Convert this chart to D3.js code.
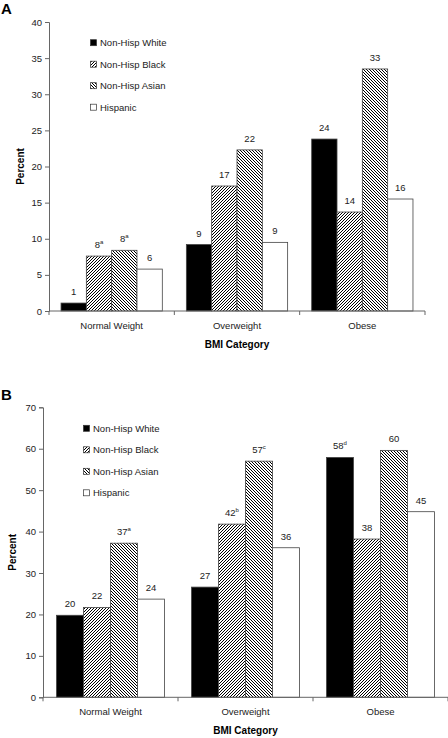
<!DOCTYPE html>
<html>
<head>
<meta charset="utf-8">
<script src="https://cdn.jsdelivr.net/npm/d3@7"></script>
<style>
html,body{margin:0;padding:0;background:#fff;}
svg{display:block;font-family:"Liberation Sans",Arial,sans-serif;}
</style>
</head>
<body>
<svg id="chart" width="448" height="738"></svg>
<script>
const categories = ["Normal Weight", "Overweight", "Obese"];
const seriesNames = ["Non-Hisp White", "Non-Hisp Black", "Non-Hisp Asian", "Hispanic"];

// Panel A values (percent), per series across categories
const aWhite = [1.1, 9.2, 23.8];
const aBlack = [7.6, 17.3, 13.7];
const aAsian = [8.4, 22.3, 33.5];
const aHispanic = [5.8, 9.5, 15.5];
const aLabels = [["1", "9", "24"], ["8|a", "17", "14"], ["8|a", "22", "33"], ["6", "9", "16"]];
const aTicks = [0, 5, 10, 15, 20, 25, 30, 35, 40];

// Panel B values (percent)
const bWhite = [19.8, 26.6, 57.9];
const bBlack = [21.7, 41.8, 38.2];
const bAsian = [37.2, 57.0, 59.6];
const bHispanic = [23.7, 36.1, 44.8];
const bLabels = [["20", "27", "58|d"], ["22", "42|b", "38"], ["37|a", "57|c", "60"], ["24", "36", "45"]];
const bTicks = [0, 10, 20, 30, 40, 50, 60, 70];

const svg = d3.select("#chart");
const defs = svg.append("defs");

function hatch(id, d) {
  const p = defs.append("pattern").attr("id", id).attr("patternUnits", "userSpaceOnUse")
    .attr("width", 3).attr("height", 3);
  p.append("rect").attr("width", 3).attr("height", 3).attr("fill", "#fff");
  p.append("path").attr("d", d).attr("stroke", "#000").attr("stroke-width", 1).attr("shape-rendering", "crispEdges");
}
hatch("fwd", "M-1,1 L1,-1 M0,3 L3,0 M2,4 L4,2");
hatch("bwd", "M-1,2 L1,4 M0,0 L3,3 M2,-1 L4,1");

const fills = ["#000", "url(#fwd)", "url(#bwd)", "#fff"];

function panel(opt) {
  const g = svg.append("g");
  const y = d3.scaleLinear().domain([0, opt.max]).range([opt.bottom, opt.top]);
  const x = d3.scaleBand().domain(categories).range([opt.left, opt.right]).padding(0);
  const xs = d3.scaleBand().domain(seriesNames).range([0, x.bandwidth()]).paddingInner(0).paddingOuter(opt.pad);

  // y axis
  const ya = g.append("g").attr("transform", `translate(${opt.left},0)`)
    .call(d3.axisLeft(y).tickValues(opt.ticks).tickSize(4).tickPadding(3).tickFormat(d3.format("d")));
  ya.select(".domain").attr("stroke", "#666");
  ya.selectAll(".tick line").attr("stroke", "#666");
  ya.selectAll(".tick text").attr("font-size", "9.5px").attr("fill", "#222")
    .attr("font-family", "Liberation Sans, Arial, sans-serif");

  // bars
  opt.series.forEach((vals, si) => {
    g.selectAll(null).data(vals).enter().append("rect")
      .attr("x", (d, i) => x(categories[i]) + xs(seriesNames[si]))
      .attr("y", d => y(d))
      .attr("width", xs.bandwidth())
      .attr("height", d => y(0) - y(d))
      .attr("fill", fills[si])
      .attr("stroke", "#444").attr("stroke-width", 0.8);
    // labels
    g.selectAll(null).data(vals).enter().append("text")
      .attr("x", (d, i) => x(categories[i]) + xs(seriesNames[si]) + xs.bandwidth() / 2)
      .attr("y", d => y(d) - 8)
      .attr("text-anchor", "middle").attr("font-size", "9.5px").attr("fill", "#222")
      .each(function (d, i) {
        const parts = opt.labels[si][i].split("|");
        const t = d3.select(this);
        t.append("tspan").text(parts[0]);
        if (parts[1]) t.append("tspan").attr("font-size", "6px").attr("dy", -4).text(parts[1]);
      });
  });

  // x axis
  const xa = g.append("g");
  xa.append("line").attr("x1", opt.left).attr("x2", opt.right)
    .attr("y1", y(0)).attr("y2", y(0)).attr("stroke", "#666");
  const bounds = categories.map(c => x(c)).concat([x(categories[categories.length - 1]) + x.bandwidth()]);
  xa.selectAll(null).data(bounds).enter().append("line")
    .attr("x1", d => d).attr("x2", d => d).attr("y1", y(0)).attr("y2", y(0) + 4).attr("stroke", "#666");
  xa.selectAll(null).data(categories).enter().append("text")
    .attr("x", d => x(d) + x.bandwidth() / 2).attr("y", y(0) + 17.5)
    .attr("text-anchor", "middle").attr("font-size", "9.5px").attr("fill", "#222").text(d => d);

  g.append("text").attr("x", (opt.left + opt.right) / 2).attr("y", y(0) + 36.5)
    .attr("text-anchor", "middle").attr("font-size", "10px").attr("font-weight", "bold").text("BMI Category");

  g.append("text").attr("transform", `translate(${opt.ylabX},${(opt.top + opt.bottom) / 2}) rotate(-90)`)
    .attr("text-anchor", "middle").attr("font-size", "10px").attr("font-weight", "bold").text("Percent");

  g.append("text").attr("x", 1).attr("y", opt.letterY).attr("font-size", "15px")
    .attr("font-weight", "bold").text(opt.letter);

  // legend
  seriesNames.forEach((s, i) => {
    const ly = opt.legY + i * 21.5;
    g.append("rect").attr("x", opt.legX).attr("y", ly - 3).attr("width", 6).attr("height", 6)
      .attr("fill", fills[i]).attr("stroke", "#333").attr("stroke-width", 0.7);
    g.append("text").attr("x", opt.legX + 9.5).attr("y", ly + 3.5).attr("font-size", "9.5px")
      .attr("fill", "#222").text(s);
  });
}

panel({
  max: 40, top: 22, bottom: 311, left: 49, right: 425, pad: 0.475,
  ticks: aTicks, series: [aWhite, aBlack, aAsian, aHispanic], labels: aLabels,
  ylabX: 24, letter: "A", letterY: 14, legX: 90.5, legY: 42.7
});
panel({
  max: 70, top: 407.3, bottom: 697.3, left: 43, right: 448, pad: 0.5,
  ticks: bTicks, series: [bWhite, bBlack, bAsian, bHispanic], labels: bLabels,
  ylabX: 16, letter: "B", letterY: 400, legX: 83.5, legY: 428.3
});
</script>
</body>
</html>
